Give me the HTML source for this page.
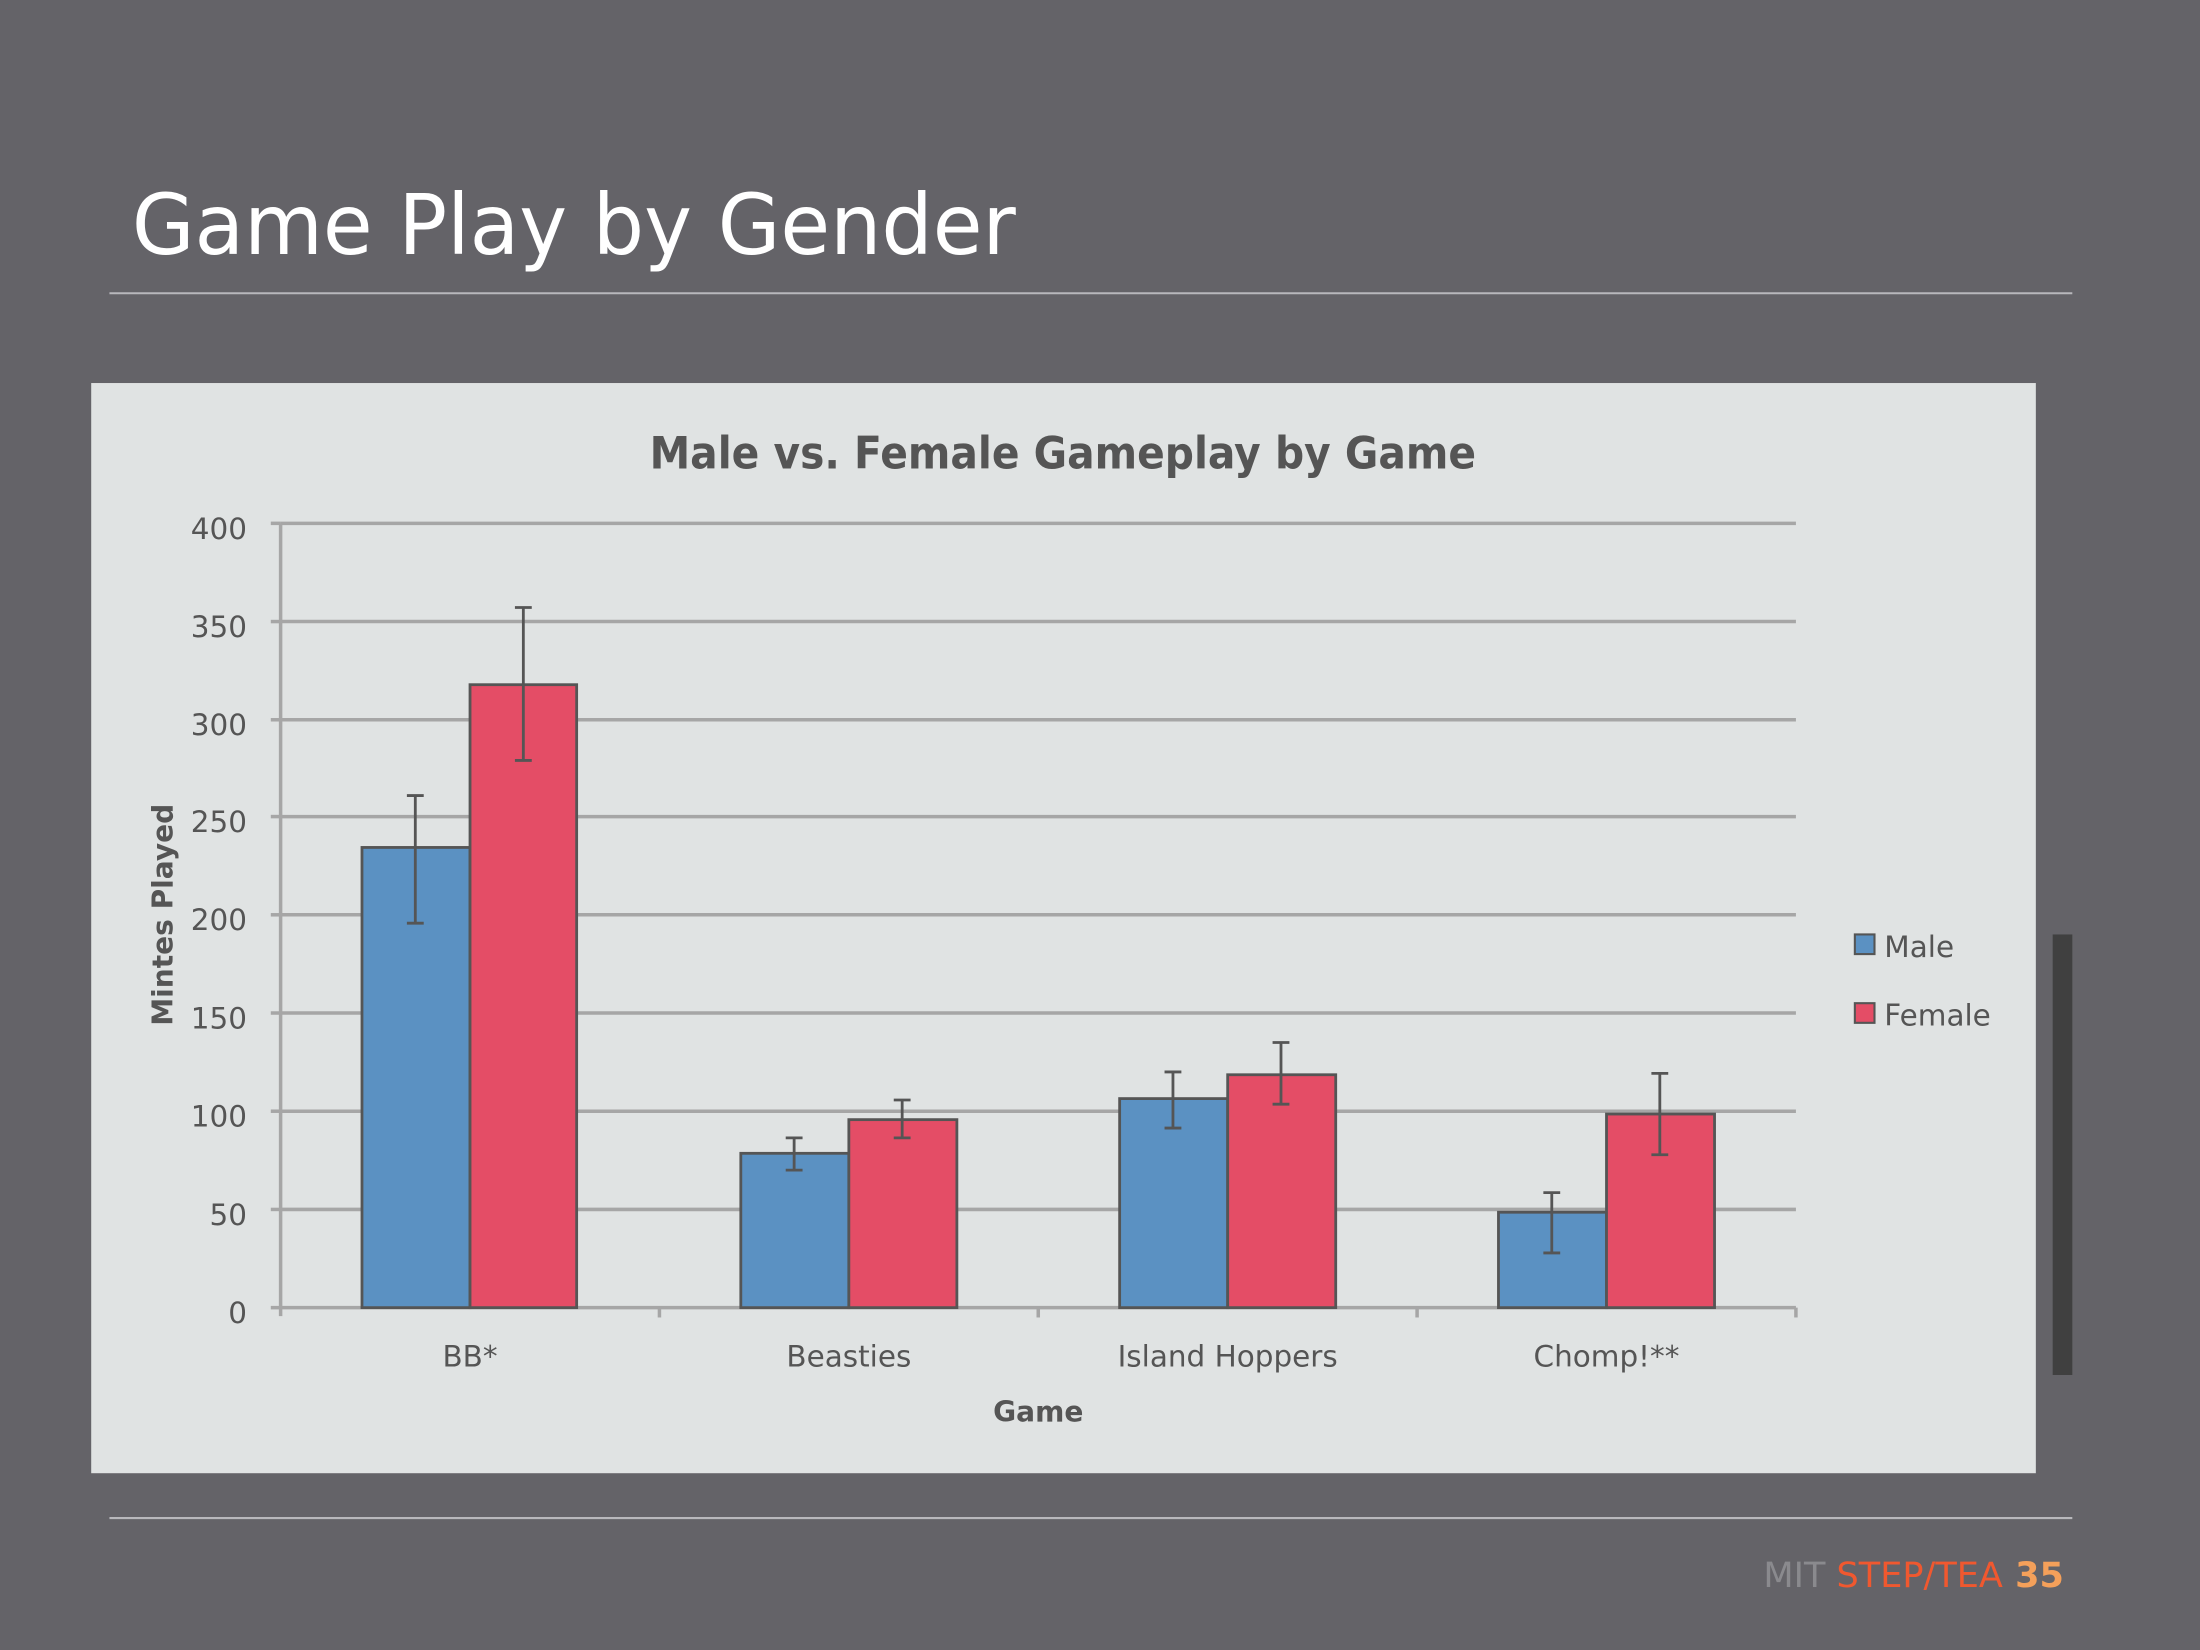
<!DOCTYPE html>
<html><head><meta charset="utf-8"><style>
html,body{margin:0;padding:0;background:#646368;}
svg{display:block;}
text{font-family:"DejaVu Sans","Liberation Sans",sans-serif;}
</style></head><body>
<svg width="2200" height="1650" viewBox="0 0 1568 1176" xmlns="http://www.w3.org/2000/svg">
<rect width="1568" height="1176" fill="#646368"/>
<text x="94" y="181" font-size="60" fill="#ffffff" textLength="630" lengthAdjust="spacingAndGlyphs">Game Play by Gender</text>
<line x1="78" y1="209" x2="1477" y2="209" stroke="#b8b8bc" stroke-width="1.5"/>
<rect x="65" y="273" width="1386" height="777" fill="#e0e3e3"/>
<rect x="1463" y="666" width="14" height="314" fill="#404040"/>
<text x="463" y="334" font-size="32" font-weight="bold" fill="#555" textLength="589" lengthAdjust="spacingAndGlyphs">Male vs. Female Gameplay by Game</text>
<g stroke="#a6a6a6" stroke-width="2.5">
<line x1="200" y1="373" x2="1280" y2="373"/>
<line x1="200" y1="443" x2="1280" y2="443"/>
<line x1="200" y1="513" x2="1280" y2="513"/>
<line x1="200" y1="582" x2="1280" y2="582"/>
<line x1="200" y1="652" x2="1280" y2="652"/>
<line x1="200" y1="722" x2="1280" y2="722"/>
<line x1="200" y1="792" x2="1280" y2="792"/>
<line x1="200" y1="862" x2="1280" y2="862"/>
<line x1="200" y1="932" x2="1280" y2="932"/>
<line x1="200" y1="373" x2="200" y2="938"/>
<line x1="193" y1="373" x2="200" y2="373"/><line x1="193" y1="443" x2="200" y2="443"/><line x1="193" y1="513" x2="200" y2="513"/><line x1="193" y1="582" x2="200" y2="582"/><line x1="193" y1="652" x2="200" y2="652"/><line x1="193" y1="722" x2="200" y2="722"/><line x1="193" y1="792" x2="200" y2="792"/><line x1="193" y1="862" x2="200" y2="862"/><line x1="193" y1="932" x2="200" y2="932"/>
<line x1="470" y1="932" x2="470" y2="939"/><line x1="740" y1="932" x2="740" y2="939"/><line x1="1010" y1="932" x2="1010" y2="939"/><line x1="1280" y1="932" x2="1280" y2="939"/>
</g>
<g font-size="21" fill="#555" text-anchor="end">
<text x="176" y="384">400</text><text x="176" y="454">350</text><text x="176" y="524">300</text><text x="176" y="593">250</text><text x="176" y="663">200</text><text x="176" y="733">150</text><text x="176" y="803">100</text><text x="176" y="873">50</text><text x="176" y="943">0</text>
</g>
<text transform="translate(123,652) rotate(-90)" font-size="20" font-weight="bold" fill="#555" text-anchor="middle">Mintes Played</text>
<g stroke="#555" stroke-width="2">
<rect x="258" y="604" width="77" height="328" fill="#5b91c2"/>
<rect x="335" y="488" width="76" height="444" fill="#e44d66"/>
<rect x="528" y="822" width="77" height="110" fill="#5b91c2"/>
<rect x="605" y="798" width="77" height="134" fill="#e44d66"/>
<rect x="798" y="783" width="77" height="149" fill="#5b91c2"/>
<rect x="875" y="766" width="77" height="166" fill="#e44d66"/>
<rect x="1068" y="864" width="77" height="68" fill="#5b91c2"/>
<rect x="1145" y="794" width="77" height="138" fill="#e44d66"/>
</g>
<g stroke="#555" stroke-width="2" fill="none">
<path d="M296 658V567M290 567h12M290 658h12"/>
<path d="M373 542V433M367 433h12M367 542h12"/>
<path d="M566 834V811M560 811h12M560 834h12"/>
<path d="M643 811V784M637 784h12M637 811h12"/>
<path d="M836 804V764M830 764h12M830 804h12"/>
<path d="M913 787V743M907 743h12M907 787h12"/>
<path d="M1106 893V850M1100 850h12M1100 893h12"/>
<path d="M1183 823V765M1177 765h12M1177 823h12"/>
</g>
<g font-size="21" fill="#555" text-anchor="middle">
<text x="335" y="974">BB*</text><text x="605" y="974">Beasties</text><text x="875" y="974">Island Hoppers</text><text x="1145" y="974">Chomp!**</text>
</g>
<text x="740" y="1013" font-size="20" font-weight="bold" fill="#555" text-anchor="middle">Game</text>
<rect x="1322" y="666" width="14" height="14" fill="#5b91c2" stroke="#555" stroke-width="1.5"/>
<text x="1343" y="682" font-size="21" fill="#555">Male</text>
<rect x="1322" y="715" width="14" height="14" fill="#e44d66" stroke="#555" stroke-width="1.5"/>
<text x="1343" y="731" font-size="21" fill="#555">Female</text>
<line x1="78" y1="1082" x2="1477" y2="1082" stroke="#b8b8bc" stroke-width="1.5"/>
<text x="1471" y="1131" font-size="25" text-anchor="end"><tspan fill="#8a8a8e">MIT </tspan><tspan fill="#f0582f">STEP/TEA</tspan><tspan fill="#f4a05a" font-weight="bold">  35</tspan></text>
</svg>
</body></html>
